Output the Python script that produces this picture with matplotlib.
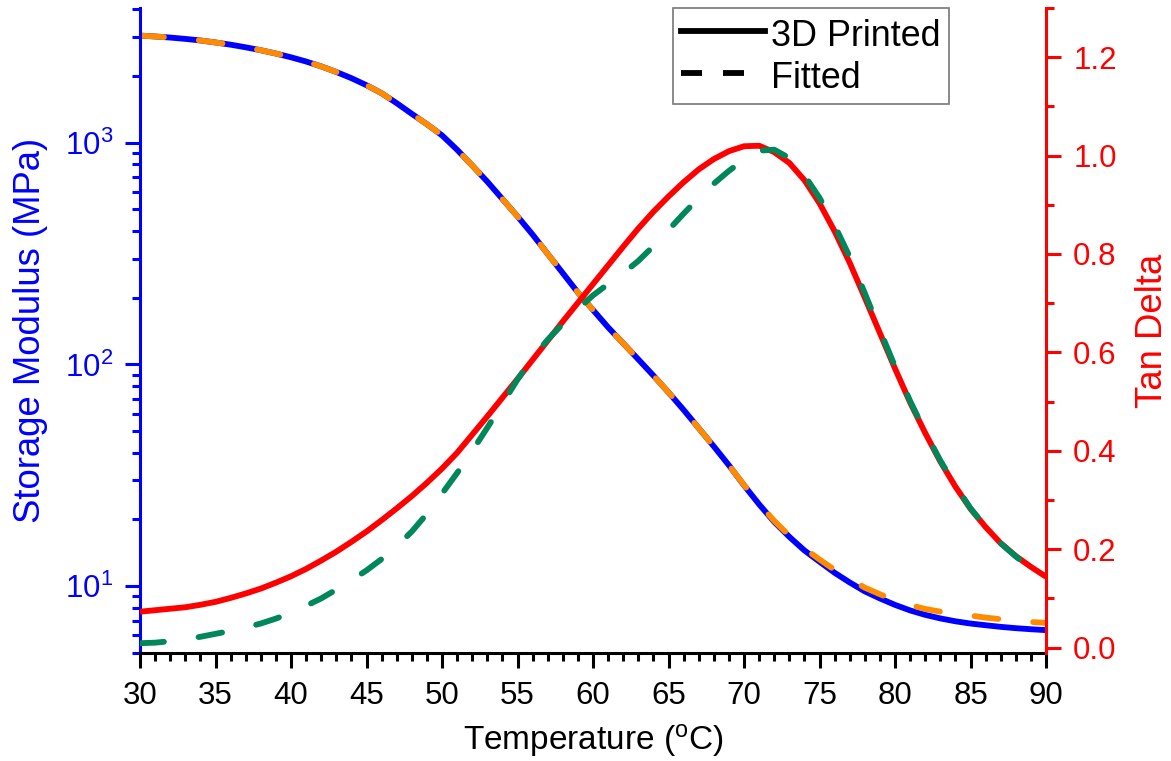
import matplotlib
matplotlib.use("Agg")
import matplotlib.pyplot as plt
from matplotlib.ticker import MultipleLocator, LogLocator, NullFormatter, FormatStrFormatter
from matplotlib.lines import Line2D

plt.rcParams['font.family'] = ['Liberation Sans', 'DejaVu Sans']
plt.rcParams['mathtext.fontset'] = 'custom'
plt.rcParams['mathtext.rm'] = 'Liberation Sans'
plt.rcParams['mathtext.it'] = 'Liberation Sans:italic'
plt.rcParams['mathtext.default'] = 'regular'

# ---- data ----
temp = list(range(30, 91))

storage_printed = [3041, 3013, 2979, 2938, 2891, 2831, 2767, 2692, 2612, 2523,
                   2427, 2323, 2208, 2084, 1954, 1816, 1671, 1507, 1349, 1211,
                   1079, 929, 789, 667, 557, 465, 385, 315, 258, 211,
                   176, 147, 124.5, 105.4, 89.1, 74.8, 62.4, 51.6, 42.7, 35.1,
                   28.5, 23.4, 19.5, 16.7, 14.5, 12.9, 11.5, 10.4, 9.48, 8.81,
                   8.24, 7.78, 7.43, 7.16, 6.95, 6.79, 6.67, 6.56, 6.47, 6.40,
                   6.34]

storage_fitted = [3041, 3013, 2979, 2938, 2891, 2831, 2767, 2692, 2612, 2523,
                  2427, 2323, 2208, 2084, 1954, 1816, 1671, 1507, 1349, 1211,
                  1079, 929, 789, 667, 557, 465, 385, 315, 258, 211,
                  176, 147, 124.5, 105.4, 89.1, 74.8, 62.4, 51.6, 42.7, 35.1,
                  28.6, 23.6, 19.7, 16.9, 14.8, 13.2, 11.85, 10.8, 9.85, 9.2,
                  8.64, 8.22, 7.90, 7.68, 7.55, 7.38, 7.22, 7.10, 6.98, 6.90,
                  6.84]

tan_printed = [0.073, 0.076, 0.079, 0.082, 0.087, 0.093, 0.101, 0.110, 0.120, 0.132,
               0.145, 0.160, 0.177, 0.195, 0.215, 0.236, 0.259, 0.283, 0.308, 0.335,
               0.364, 0.396, 0.433, 0.470, 0.508, 0.546, 0.585, 0.624, 0.663, 0.701,
               0.739, 0.777, 0.815, 0.852, 0.886, 0.917, 0.946, 0.972, 0.993, 1.009,
               1.019, 1.020, 1.007, 0.985, 0.950, 0.903, 0.846, 0.782, 0.711, 0.639,
               0.567, 0.498, 0.436, 0.378, 0.327, 0.282, 0.245, 0.212, 0.186, 0.164,
               0.144]

tan_fitted = [0.009, 0.010, 0.013, 0.017, 0.022, 0.028, 0.034, 0.041, 0.049, 0.059,
              0.071, 0.085, 0.100, 0.118, 0.137, 0.157, 0.180, 0.206, 0.236, 0.272,
              0.313, 0.355, 0.400, 0.447, 0.496, 0.545, 0.589, 0.626, 0.658, 0.688,
              0.716, 0.739, 0.761, 0.786, 0.816, 0.849, 0.882, 0.914, 0.943, 0.969,
              0.992, 1.010, 1.012, 0.995, 0.960, 0.914, 0.858, 0.794, 0.720, 0.645,
              0.571, 0.501, 0.438, 0.380, 0.329, 0.283, 0.245, 0.212, 0.185, 0.162,
              0.142]

x_ticks = [30, 35, 40, 45, 50, 55, 60, 65, 70, 75, 80, 85, 90]
left_ticks = [10, 100, 1000]
right_ticks = [0.0, 0.2, 0.4, 0.6, 0.8, 1.0, 1.2]
legend_labels = ['3D Printed', 'Fitted']

BLUE = '#0000FF'
RED = '#FF0000'
ORANGE = '#FF8C00'
GREEN = '#00875A'
FS_TICK = 22.5
FS_XLAB = 24
FS_YLAB = 26.3
FS_LEG = 25.8
LW = 4.2
DASH = (0, (4.1, 6.0))

fig = plt.figure(figsize=(11.71, 7.61), dpi=100)
ax = fig.add_axes([0.1196, 0.1419, 0.7737, 0.8476])
ax2 = ax.twinx()

ax.plot(temp, storage_printed, color=BLUE, lw=LW, solid_capstyle='butt',
        solid_joinstyle='round')
ax.plot(temp, storage_fitted, color=ORANGE, lw=LW, linestyle=DASH,
        dash_capstyle='round')
ax2.plot(temp, tan_printed, color=RED, lw=LW, solid_capstyle='butt',
         solid_joinstyle='round')
ax2.plot(temp, tan_fitted, color=GREEN, lw=LW, linestyle=DASH,
         dash_capstyle='round')

ax.set_xlim(30, 90)
ax.set_yscale('log')
ax.set_ylim(5, 4050)
ax2.set_ylim(-0.011, 1.3)

ax.set_xticks(x_ticks)
ax.xaxis.set_minor_locator(MultipleLocator(1))
ax.set_yticks(left_ticks)
ax.yaxis.set_minor_locator(LogLocator(base=10, subs=range(2, 10)))
ax.yaxis.set_minor_formatter(NullFormatter())
ax2.set_yticks(right_ticks)
ax2.yaxis.set_minor_locator(MultipleLocator(0.1))
ax2.yaxis.set_major_formatter(FormatStrFormatter('%.1f'))

for a in (ax, ax2):
    a.spines['top'].set_visible(False)
    for s in a.spines.values():
        s.set_linewidth(2.2)
ax.spines['left'].set_color(BLUE)
ax.spines['right'].set_visible(False)
ax.spines['bottom'].set_color('black')
ax2.spines['right'].set_color(RED)
ax2.spines['left'].set_visible(False)
ax2.spines['bottom'].set_visible(False)

ax.tick_params(axis='x', which='major', direction='out', length=10.5, width=2.2,
               labelsize=FS_TICK, pad=9.5, colors='black')
ax.tick_params(axis='x', which='minor', direction='out', length=5.5, width=2.2)
ax.tick_params(axis='y', which='major', direction='out', length=10.5, width=2.2,
               labelsize=FS_TICK, pad=9, colors=BLUE)
ax.tick_params(axis='y', which='minor', direction='out', length=5.5, width=2.2,
               colors=BLUE)
ax2.tick_params(axis='y', which='major', direction='out', length=10.5, width=2.2,
                labelsize=FS_TICK, pad=9, colors=RED)
ax2.tick_params(axis='y', which='minor', direction='out', length=5.5, width=2.2,
                colors=RED)

ax.set_xlabel(r'Temperature ($^{o}$C)', fontsize=FS_XLAB, labelpad=8)
ax.set_ylabel('Storage Modulus (MPa)', fontsize=FS_YLAB, color=BLUE, labelpad=12)
ax2.set_ylabel('Tan Delta', fontsize=FS_YLAB, color=RED, labelpad=13)

handles = [Line2D([], [], color='black', lw=LW),
           Line2D([], [], color='black', lw=LW, linestyle=(0, (3.6, 3.6)))]
leg = ax2.legend(handles, legend_labels, loc='upper left',
                 bbox_to_anchor=(0.588, 1.0), borderaxespad=0, fontsize=FS_LEG,
                 frameon=True, fancybox=False, edgecolor='#555555',
                 handlelength=2.35, handleheight=1.17, handletextpad=0.18,
                 borderpad=0.22, labelspacing=0.12)
leg.get_frame().set_linewidth(1.2)

fig.savefig('out.png', dpi=100)
